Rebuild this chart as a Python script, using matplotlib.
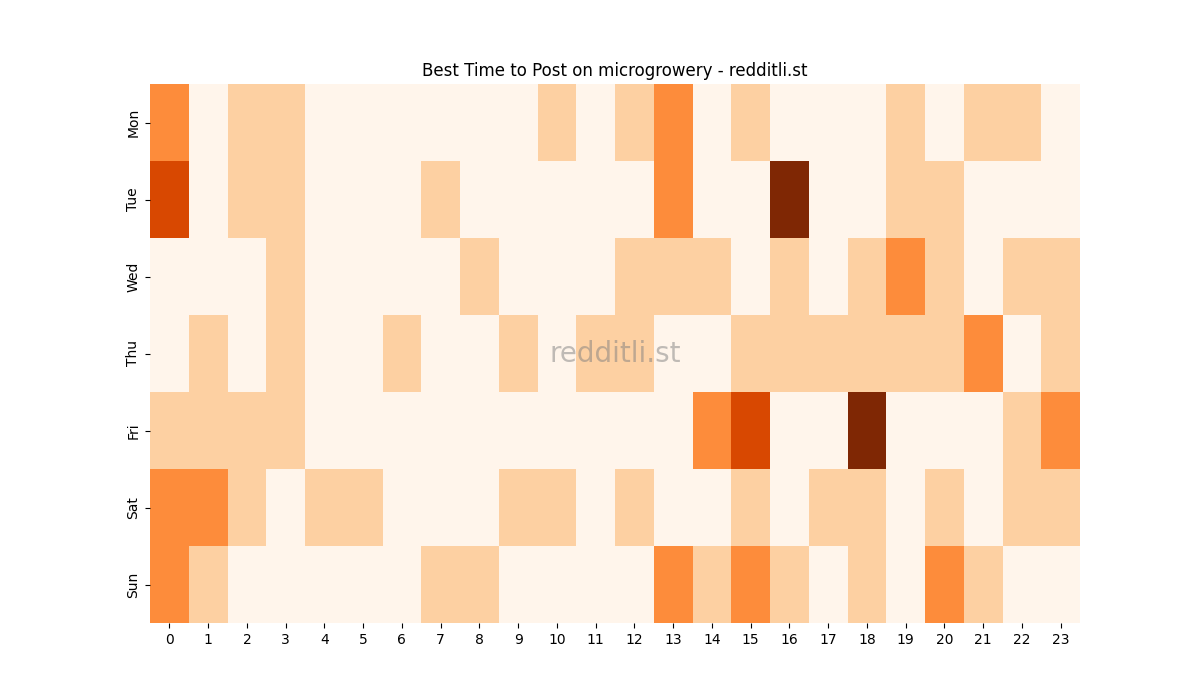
import matplotlib
matplotlib.use("Agg")
import matplotlib.pyplot as plt
import seaborn as sns
import numpy as np

days = ["Mon", "Tue", "Wed", "Thu", "Fri", "Sat", "Sun"]
hours = list(range(24))
mon = [2,0,1,1,0,0,0,0,0,0,1,0,1,2,0,1,0,0,0,1,0,1,1,0]
tue = [3,0,1,1,0,0,0,1,0,0,0,0,0,2,0,0,4,0,0,1,1,0,0,0]
wed = [0,0,0,1,0,0,0,0,1,0,0,0,1,1,1,0,1,0,1,2,1,0,1,1]
thu = [0,1,0,1,0,0,1,0,0,1,0,1,1,0,0,1,1,1,1,1,1,2,0,1]
fri = [1,1,1,1,0,0,0,0,0,0,0,0,0,0,2,3,0,0,4,0,0,0,1,2]
sat = [2,2,1,0,1,1,0,0,0,1,1,0,1,0,0,1,0,1,1,0,1,0,1,1]
sun = [2,1,0,0,0,0,0,1,1,0,0,0,0,2,1,2,1,0,1,0,2,1,0,0]

data = np.array([mon, tue, wed, thu, fri, sat, sun])

fig = plt.figure(figsize=(12, 7), dpi=100)
ax = fig.add_axes([0.125, 0.11, 0.775, 0.77])
sns.heatmap(data, ax=ax, cmap="Oranges", vmin=0, vmax=4, cbar=False,
            xticklabels=hours, yticklabels=days)
ax.set_title("Best Time to Post on microgrowery - redditli.st")
ax.text(0.5, 0.5, "redditli.st", transform=ax.transAxes, ha="center", va="center",
        fontsize=20, color="grey", alpha=0.5)
fig.savefig("out.png")
